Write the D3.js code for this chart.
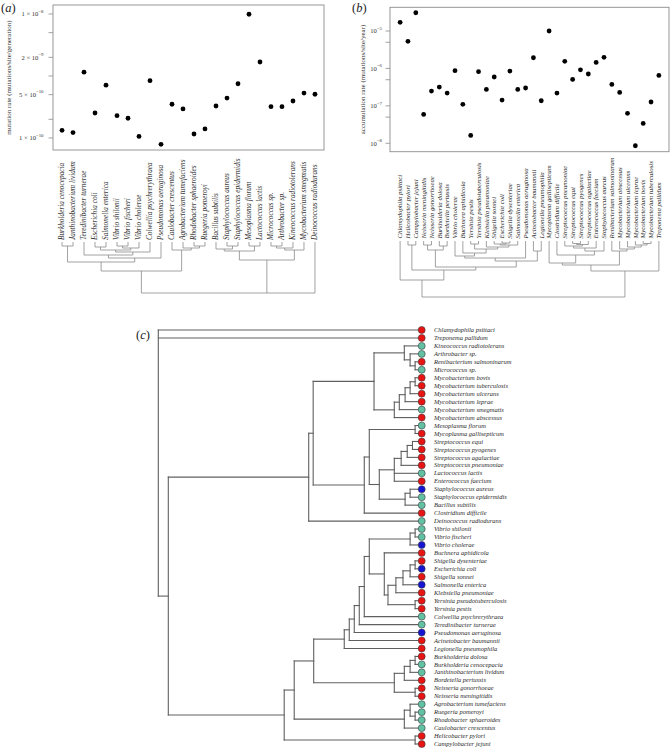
<!DOCTYPE html>
<html><head><meta charset="utf-8">
<script src="https://cdn.jsdelivr.net/npm/d3@7"></script>
<style>
body{margin:0;background:#fff;}
svg{display:block;}
text{font-family:"Liberation Serif","Times New Roman",serif;}
</style></head><body>
<svg id="chart" width="670" height="748"></svg>
<script>
// ---------------- DATA ----------------
const speciesA = ["Burkholderia cenocepacia","Janthinobacterium lividum","Teredinibacter turnerae","Escherichia coli","Salmonella enterica","Vibrio shilonii","Vibrio fischeri","Vibrio cholerae","Colwellia psychrerythraea","Pseudomonas aeruginosa","Caulobacter crescentus","Agrobacterium tumefaciens","Rhodobacter sphaeroides","Ruegeria pomeroyi","Bacillus subtilis","Staphylococcus aureus","Staphylococcus epidermidis","Mesoplasma florum","Lactococcus lactis","Micrococcus sp.","Arthrobacter sp.","Kineococcus radiotolerans","Mycobacterium smegmatis","Deinococcus radiodurans"];
const rateA = [1.33e-10,1.22e-10,1.15e-9,2.53e-10,7.1e-10,2.29e-10,2.08e-10,1.06e-10,8.4e-10,7.9e-11,3.5e-10,2.94e-10,1.16e-10,1.40e-10,3.28e-10,4.4e-10,7.5e-10,9.9e-9,1.68e-9,3.2e-10,3.2e-10,3.95e-10,5.3e-10,5.07e-10];
const ticksA = [1e-8,5e-9,2e-9,1e-9,5e-10,2e-10,1e-10];
const labelTicksA = [1e-8,2e-9,5e-10,1e-10];
const tickMantA = ["1 × 10","2 × 10","5 × 10","1 × 10"];
const tickExpA = ["−8","−9","−10","−10"];
const titleA = "mutation rate (mutations/site/generation)";

const speciesB = ["Chlamydophila psittaci","Helicobacter pylori","Campylobacter jejuni","Neisseria meningitidis","Neisseria gonorrhoeae","Burkholderia dolosa","Bordetella pertussis","Vibrio cholerae","Buchnera aphidicola","Yersinia pestis","Yersinia pseudotuberculosis","Klebsiella pneumoniae","Shigella sonnei","Escherichia coli","Shigella dysenteriae","Salmonella enterica","Pseudomonas aeruginosa","Acinetobacter baumannii","Legionella pneumophila","Mycoplasma gallisepticum","Clostridium difficile","Streptococcus pneumoniae","Streptococcus equi","Streptococcus pyogenes","Streptococcus agalactiae","Enterococcus faecium","Staphylococcus aureus","Renibacterium salmoninarum","Mycobacterium abscessus","Mycobacterium ulcerans","Mycobacterium leprae","Mycobacterium bovis","Mycobacterium tuberculosis","Treponema pallidum"];
const rateB = [1.71e-5,5.3e-6,3.08e-5,5.9e-8,2.49e-7,3.18e-7,2.2e-7,8.7e-7,1.10e-7,1.62e-8,8.2e-7,2.75e-7,5.9e-7,1.43e-7,8.5e-7,2.75e-7,3.0e-7,1.93e-6,1.37e-7,1.0e-5,2.2e-7,1.55e-6,5.1e-7,9.2e-7,7.1e-7,1.45e-6,1.98e-6,3.75e-7,2.29e-7,6.3e-8,8.6e-9,3.4e-8,1.27e-7,6.5e-7];
const ticksB = [1e-5,5e-6,1e-6,5e-7,1e-7,5e-8,1e-8];
const labelTicksB = [1e-5,1e-6,1e-7,1e-8];
const tickMantB = ["10","10","10","10"];
const tickExpB = ["−5","−6","−7","−8"];
const titleB = "accumulation rate (mutations/site/year)";

// trees: [nodeHeight, child, child, ...]; leaves are species names
const treeA = [51,
  [29,
    [20, [4, "Burkholderia cenocepacia", "Janthinobacterium lividum"],
         [16, [13, "Teredinibacter turnerae",
                   [10, [8, [5, "Escherichia coli", "Salmonella enterica"],
                           [6, [4, "Vibrio shilonii", "Vibrio fischeri"], "Vibrio cholerae"]],
                        "Colwellia psychrerythraea"]],
              "Pseudomonas aeruginosa"]],
    [8, "Caulobacter crescentus", [6, "Agrobacterium tumefaciens", [4, "Rhodobacter sphaeroides", "Ruegeria pomeroyi"]]]],
  [18,
    [9, [7, "Bacillus subtilis", [4, "Staphylococcus aureus", "Staphylococcus epidermidis"]], [4, "Mesoplasma florum", "Lactococcus lactis"]],
    [8, [6, [4, "Micrococcus sp.", "Arthrobacter sp."], "Kineococcus radiotolerans"], "Mycobacterium smegmatis"]],
  "Deinococcus radiodurans"];

const treeB = [56,
  [39, "Chlamydophila psittaci",
    [29, [4, "Helicobacter pylori", "Campylobacter jejuni"],
      [26, [9, [4, "Neisseria meningitidis", "Neisseria gonorrhoeae"], [5, "Burkholderia dolosa", "Bordetella pertussis"]],
        [20, [17, [15, "Vibrio cholerae", [12, "Buchnera aphidicola", [8, [3, "Yersinia pestis", "Yersinia pseudotuberculosis"], [6, "Klebsiella pneumoniae", [4, [3, "Shigella sonnei", [2, "Escherichia coli", "Shigella dysenteriae"]], "Salmonella enterica"]]]]], "Pseudomonas aeruginosa"],
          [10, "Acinetobacter baumannii", "Legionella pneumophila"]]]]],
  [30,
    [24,
      [22, "Mycoplasma gallisepticum", [14, "Clostridium difficile", [10, [7, [5, "Streptococcus pneumoniae", [3.5, [2.5, "Streptococcus equi", "Streptococcus pyogenes"], "Streptococcus agalactiae"]], "Enterococcus faecium"], "Staphylococcus aureus"]]],
      [10, "Renibacterium salmoninarum", [8, "Mycobacterium abscessus", [6, "Mycobacterium ulcerans", [4, "Mycobacterium leprae", [2.5, "Mycobacterium bovis", "Mycobacterium tuberculosis"]]]]]],
    "Treponema pallidum"]];

const speciesC = ["Chlamydophila psittaci","Treponema pallidum","Kineococcus radiotolerans","Arthrobacter sp.","Renibacterium salmoninarum","Micrococcus sp.","Mycobacterium bovis","Mycobacterium tuberculosis","Mycobacterium ulcerans","Mycobacterium leprae","Mycobacterium smegmatis","Mycobacterium abscessus","Mesoplasma florum","Mycoplasma gallisepticum","Streptococcus equi","Streptococcus pyogenes","Streptococcus agalactiae","Streptococcus pneumoniae","Lactococcus lactis","Enterococcus faecium","Staphylococcus aureus","Staphylococcus epidermidis","Bacillus subtilis","Clostridium difficile","Deinococcus radiodurans","Vibrio shilonii","Vibrio fischeri","Vibrio cholerae","Buchnera aphidicola","Shigella dysenteriae","Escherichia coli","Shigella sonnei","Salmonella enterica","Klebsiella pneumoniae","Yersinia pseudotuberculosis","Yersinia pestis","Colwellia psychrerythraea","Teredinibacter turnerae","Pseudomonas aeruginosa","Acinetobacter baumannii","Legionella pneumophila","Burkholderia dolosa","Burkholderia cenocepacia","Janthinobacterium lividum","Bordetella pertussis","Neisseria gonorrhoeae","Neisseria meningitidis","Agrobacterium tumefaciens","Ruegeria pomeroyi","Rhodobacter sphaeroides","Caulobacter crescentus","Helicobacter pylori","Campylobacter jejuni"];

const treeC = [1.0, "Chlamydophila psittaci", "Treponema pallidum",
  [0.962,
    [0.429,
      [0.412,
        [0.181,
          [0.066, "Kineococcus radiotolerans", [0.044, "Arthrobacter sp.", [0.025, "Renibacterium salmoninarum", "Micrococcus sp."]]],
          [0.104, [0.085, [0.063, [0.044, [0.025, "Mycobacterium bovis", "Mycobacterium tuberculosis"], "Mycobacterium ulcerans"], "Mycobacterium leprae"], "Mycobacterium smegmatis"], "Mycobacterium abscessus"]],
        [0.218,
          [0.199,
            [0.025, "Mesoplasma florum", "Mycoplasma gallisepticum"],
            [0.161,
              [0.104, [0.078, [0.055, [0.035, "Streptococcus equi", "Streptococcus pyogenes"], "Streptococcus agalactiae"], "Streptococcus pneumoniae"], "Lactococcus lactis", "Enterococcus faecium"],
              [0.063, [0.044, "Staphylococcus aureus", "Staphylococcus epidermidis"], "Bacillus subtilis"]]],
          "Clostridium difficile"]],
      "Deinococcus radiodurans"],
    [0.522,
      [0.484,
        [0.410,
          [0.294, [0.275, [0.256, [0.237, [0.218, [0.199,
                [0.044, [0.025, "Vibrio shilonii", "Vibrio fischeri"], "Vibrio cholerae"],
                [0.142, "Buchnera aphidicola", [0.128, [0.098, [0.071, [0.044, [0.025, "Shigella dysenteriae", "Escherichia coli"], "Shigella sonnei"], "Salmonella enterica"], "Klebsiella pneumoniae"], [0.025, "Yersinia pseudotuberculosis", "Yersinia pestis"]]]],
              "Colwellia psychrerythraea"], "Teredinibacter turnerae"], "Pseudomonas aeruginosa"], "Acinetobacter baumannii"], "Legionella pneumophila"],
          [0.104, [0.066, [0.044, [0.025, "Burkholderia dolosa", "Burkholderia cenocepacia"], "Janthinobacterium lividum"], "Bordetella pertussis"], [0.025, "Neisseria gonorrhoeae", "Neisseria meningitidis"]]],
        [0.066, [0.044, "Agrobacterium tumefaciens", [0.025, "Ruegeria pomeroyi", "Rhodobacter sphaeroides"]], "Caulobacter crescentus"]],
      [0.025, "Helicobacter pylori", "Campylobacter jejuni"]]]];

const colorBoth = "#1414d2", colorOnlyA = "#62c1a3", colorOnlyB = "#e81414";

// ---------------- DRAWING ----------------
const svg = d3.select("#chart");

function panelLabel(x, y, letter){
  const t = svg.append("text").attr("x", x).attr("y", y).attr("font-size", 12.5).attr("fill", "#222");
  t.append("tspan").text("(");
  t.append("tspan").attr("font-style", "italic").text(letter);
  t.append("tspan").text(")");
}

function hier(tree){
  return d3.hierarchy(tree, d => Array.isArray(d) ? d.slice(1) : null);
}

function drawDendroV(g, tree, xScale, hScale){
  const root = hier(tree);
  root.eachAfter(n => {
    if (!n.children){ n.px = xScale(n.data); n.py = hScale(0); }
    else {
      n.px = (n.children[0].px + n.children[n.children.length-1].px)/2;
      n.py = hScale(n.data[0]);
    }
  });
  const segs = [];
  root.each(n => {
    if (!n.children) return;
    segs.push([n.children[0].px, n.py, n.children[n.children.length-1].px, n.py]);
    n.children.forEach(c => segs.push([c.px, n.py, c.px, c.py]));
  });
  g.selectAll("line").data(segs).join("line")
    .attr("x1", d => d[0]).attr("y1", d => d[1]).attr("x2", d => d[2]).attr("y2", d => d[3])
    .attr("stroke", "#8a8a8a").attr("stroke-width", 0.8);
}

function scatterPanel(c){
  const g = svg.append("g");
  const x = d3.scalePoint().domain(c.species).range([c.frame.l, c.frame.r]).padding(c.xPad);
  const y = d3.scaleLog().domain(c.yDomain).range([c.frame.b, c.frame.t]);
  g.append("rect").attr("x", c.frame.l).attr("y", c.frame.t)
    .attr("width", c.frame.r - c.frame.l).attr("height", c.frame.b - c.frame.t)
    .attr("fill", "none").attr("stroke", "#8c8c8c").attr("stroke-width", 0.9);
  g.selectAll("line.tick").data(c.ticks).join("line").attr("class", "tick")
    .attr("x1", c.frame.l - 4.5).attr("x2", c.frame.l)
    .attr("y1", d => y(d)).attr("y2", d => y(d))
    .attr("stroke", "#8c8c8c").attr("stroke-width", 0.8);
  c.labelTicks.forEach((v, i) => {
    const t = g.append("text").attr("x", c.frame.l - c.labelGap).attr("y", y(v)).attr("dy", "0.35em")
      .attr("text-anchor", "end").attr("font-size", 6.6).attr("fill", "#333");
    t.append("tspan").text(c.mant[i]);
    t.append("tspan").attr("font-size", 4.8).attr("dy", "-0.75em").text(c.exps[i]);
  });
  g.append("text").attr("transform", `translate(${c.titleX},${(c.frame.t + c.frame.b)/2}) rotate(-90)`)
    .attr("text-anchor", "middle").attr("dy", "0.35em").attr("font-size", 7).attr("fill", "#333").text(c.title);
  g.selectAll("circle").data(c.species).join("circle")
    .attr("cx", d => x(d)).attr("cy", (d, i) => y(c.rates[i])).attr("r", 2.4).attr("fill", "#000");
  g.selectAll("text.sp").data(c.species).join("text").attr("class", "sp")
    .attr("transform", d => `translate(${x(d)},${c.labelBase}) rotate(-90)`)
    .attr("dy", "0.33em").attr("font-size", c.fontSize).attr("font-style", "italic").attr("fill", "#2a2a2a")
    .text(d => d);
  const h = d3.scaleLinear().domain([0, c.tree[0]]).range([c.treeTop, c.treeBottom]);
  drawDendroV(g.append("g"), c.tree, x, h);
}

// Panel (a)
panelLabel(1, 12, "a");
scatterPanel({
  species: speciesA, rates: rateA, frame: {l: 53, r: 324, t: 5, b: 150}, xPad: 0.82,
  yDomain: [Math.pow(10, -10.194), Math.pow(10, -7.855)],
  ticks: ticksA, labelTicks: labelTicksA, mant: tickMantA, exps: tickExpA, labelGap: 9.5,
  title: titleA, titleX: 9, labelBase: 240, fontSize: 7.3,
  tree: treeA, treeTop: 242, treeBottom: 293
});

// Panel (b)
panelLabel(352, 12, "b");
scatterPanel({
  species: speciesB, rates: rateB, frame: {l: 390, r: 669, t: 7.3, b: 151.7}, xPad: 1.29,
  yDomain: [Math.pow(10, -8.225), Math.pow(10, -4.366)],
  ticks: ticksB, labelTicks: labelTicksB, mant: tickMantB, exps: tickExpB, labelGap: 8,
  title: titleB, titleX: 363, labelBase: 238.5, fontSize: 6.8,
  tree: treeB, treeTop: 241, treeBottom: 297
});

// Panel (c)
panelLabel(136, 339, "c");
(function(){
  const g = svg.append("g");
  const yC = d3.scalePoint().domain(speciesC).range([330, 744]);
  const xC = d3.scaleLinear().domain([0, 1]).range([421.7, 158.3]);
  const root = hier(treeC);
  root.eachAfter(n => {
    if (!n.children){ n.py = yC(n.data); n.px = xC(0); }
    else {
      n.py = (n.children[0].py + n.children[n.children.length-1].py)/2;
      n.px = xC(n.data[0]);
    }
  });
  const segs = [];
  root.each(n => {
    if (!n.children) return;
    segs.push([n.px, n.children[0].py, n.px, n.children[n.children.length-1].py]);
    n.children.forEach(ch => segs.push([n.px, ch.py, ch.px, ch.py]));
  });
  g.selectAll("line").data(segs).join("line")
    .attr("x1", d => d[0]).attr("y1", d => d[1]).attr("x2", d => d[2]).attr("y2", d => d[3])
    .attr("stroke", "#606060").attr("stroke-width", 1.1).attr("stroke-linecap", "square");
  const colorOf = s => {
    const a = speciesA.includes(s), b = speciesB.includes(s);
    return a && b ? colorBoth : (a ? colorOnlyA : colorOnlyB);
  };
  g.selectAll("circle").data(speciesC).join("circle")
    .attr("cx", xC(0)).attr("cy", d => yC(d)).attr("r", 3.5)
    .attr("fill", d => colorOf(d)).attr("stroke", "#3a3a3a").attr("stroke-width", 0.6);
  g.selectAll("text").data(speciesC).join("text")
    .attr("x", 434).attr("y", d => yC(d)).attr("dy", "0.33em")
    .attr("font-size", 6.5).attr("font-style", "italic").attr("fill", "#2a2a2a").text(d => d);
})();
</script>
</body></html>
